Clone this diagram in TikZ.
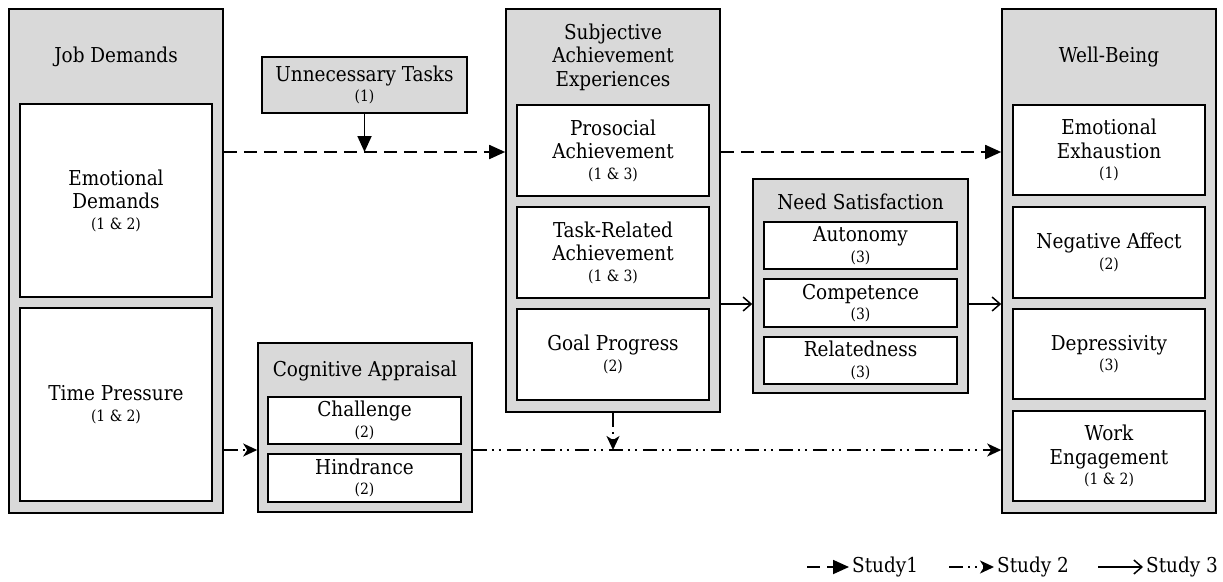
\documentclass[tikz,border=0pt]{standalone}
\usepackage{fontspec}
\setmainfont{DejaVu Serif Condensed}
\usetikzlibrary{arrows.meta}
\definecolor{boxgray}{RGB}{217,217,217}
\newcommand{\smalltag}[1]{{\fontsize{15.5}{17}\selectfont #1}}
\begin{document}
\begin{tikzpicture}[x=1pt,y=-1pt,
  every node/.style={font=\fontsize{20.5}{23.5}\selectfont},
  outerbox/.style={draw=black,line width=1.6pt,fill=boxgray,inner sep=0pt},
  innerbox/.style={draw=black,line width=1.6pt,fill=white,inner sep=0pt,align=center},
  titletext/.style={align=center,inner sep=0pt},
  sone/.style={line width=1.8pt,dash pattern=on 13pt off 7pt,-{Triangle[length=16pt,width=14pt]}},
  sonesolid/.style={line width=1.8pt,-{Triangle[length=16pt,width=14pt]}},
  stwo/.style={line width=1.8pt,dash pattern=on 14pt off 5pt on 2pt off 5pt on 2pt off 6pt,-{Stealth[length=14pt,width=13pt,inset=4pt]}},
  sthree/.style={line width=1.5pt,-{Straight Barb[length=8pt,width=14pt]}},
  legendtext/.style={anchor=west,inner sep=3pt}
]
\useasboundingbox (0,0) rectangle (1223,581);

% Job Demands
\node[outerbox,minimum width=214pt,minimum height=504pt] (JD) at (116,261) {};
\node[titletext] (JDt) at (116,57) {Job Demands};
\node[innerbox,minimum width=192pt,minimum height=193pt] (ED) at (116,200.5) {Emotional\\Demands\\[-3pt]\smalltag{(1 \& 2)}};
\node[innerbox,minimum width=192pt,minimum height=193pt] (TP) at (116,404.5) {Time Pressure\\[-3pt]\smalltag{(1 \& 2)}};

% Unnecessary Tasks
\node[outerbox,align=center,minimum width=205pt,minimum height=56pt] (UT) at (364.5,85) {Unnecessary Tasks\\[-3pt]\smalltag{(1)}};

% Subjective Achievement Experiences
\node[outerbox,minimum width=214pt,minimum height=403pt] (SAE) at (613,210.5) {};
\node[titletext] (SAEt) at (613,57) {Subjective\\Achievement\\Experiences};
\node[innerbox,minimum width=192pt,minimum height=91pt] (PA) at (613,150.5) {Prosocial\\Achievement\\[-3pt]\smalltag{(1 \& 3)}};
\node[innerbox,minimum width=192pt,minimum height=91pt] (TRA) at (613,252.5) {Task-Related\\Achievement\\[-3pt]\smalltag{(1 \& 3)}};
\node[innerbox,minimum width=192pt,minimum height=91pt] (GP) at (613,354.5) {Goal Progress\\[-3pt]\smalltag{(2)}};

% Cognitive Appraisal
\node[outerbox,minimum width=214pt,minimum height=169pt] (CA) at (365,427.5) {};
\node[titletext] (CAt) at (365,371) {Cognitive Appraisal};
\node[innerbox,minimum width=193pt,minimum height=47pt] (CH) at (364.5,420.5) {Challenge\\[-3pt]\smalltag{(2)}};
\node[innerbox,minimum width=193pt,minimum height=48pt] (HI) at (364.5,478) {Hindrance\\[-3pt]\smalltag{(2)}};

% Need Satisfaction
\node[outerbox,minimum width=215pt,minimum height=214pt] (NS) at (860.5,286) {};
\node[titletext] (NSt) at (860.5,202) {Need Satisfaction};
\node[innerbox,minimum width=193pt,minimum height=47pt] (AU) at (860.5,245.5) {Autonomy\\[-3pt]\smalltag{(3)}};
\node[innerbox,minimum width=193pt,minimum height=48pt] (CO) at (860.5,303) {Competence\\[-3pt]\smalltag{(3)}};
\node[innerbox,minimum width=193pt,minimum height=47pt] (RE) at (860.5,360.5) {Relatedness\\[-3pt]\smalltag{(3)}};

% Well-Being
\node[outerbox,minimum width=214pt,minimum height=504pt] (WB) at (1109,261) {};
\node[titletext] (WBt) at (1109,57) {Well-Being};
\node[innerbox,minimum width=192pt,minimum height=90pt] (EE) at (1109,150) {Emotional\\Exhaustion\\[-3pt]\smalltag{(1)}};
\node[innerbox,minimum width=192pt,minimum height=91pt] (NA) at (1109,252.5) {Negative Affect\\[-3pt]\smalltag{(2)}};
\node[innerbox,minimum width=192pt,minimum height=90pt] (DE) at (1109,354) {Depressivity\\[-3pt]\smalltag{(3)}};
\node[innerbox,minimum width=192pt,minimum height=90pt] (WE) at (1109,456) {Work\\Engagement\\[-3pt]\smalltag{(1 \& 2)}};

% connector levels
\coordinate (h1) at (0,152);
\coordinate (h2) at (0,450);
\coordinate (h3) at (0,304);

% Study 1
\draw[sone] (JD.east |- h1) -- (SAE.west |- h1);
\draw[sone] (SAE.east |- h1) -- (WB.west |- h1);
\draw[sonesolid] (UT.south) -- (UT.south |- h1);

% Study 3
\draw[sthree] (SAE.east |- h3) -- (NS.west |- h3);
\draw[sthree] (NS.east |- h3) -- (WB.west |- h3);

% Study 2
\draw[stwo] (JD.east |- h2) -- (CA.west |- h2);
\draw[stwo] (CA.east |- h2) -- (WB.west |- h2);
\draw[stwo] (SAE.south) -- (SAE.south |- h2);

% Legend
\node[legendtext] (L1) at (849,567) {Study1};
\node[legendtext] (L2) at (994,567) {Study 2};
\node[legendtext] (L3) at (1143,567) {Study 3};
\coordinate (L1s) at (807,567);
\coordinate (L2s) at (949,567);
\coordinate (L3s) at (1098,567);
\draw[sone] (L1s) -- (L1.west);
\draw[stwo] (L2s) -- (L2.west);
\draw[sthree] (L3s) -- (L3.west);
\end{tikzpicture}
\end{document}
